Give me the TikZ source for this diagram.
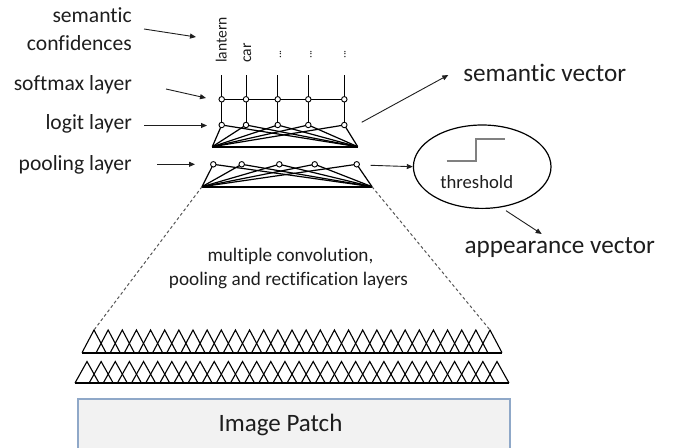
\documentclass[tikz,border=0pt]{standalone}
\usepackage{fontspec}
\setmainfont{Carlito}[Ligatures={NoCommon}]
\usetikzlibrary{arrows.meta,shapes.geometric}
\definecolor{txt}{HTML}{1E1E1E}
\definecolor{boxf}{HTML}{F2F2F2}
\definecolor{boxc}{HTML}{8FA8C8}
\definecolor{stepc}{HTML}{808080}
\definecolor{dashc}{HTML}{555555}
\begin{document}
\begin{tikzpicture}[x=1pt,y=-1pt,
  lbl/.style={inner sep=0pt, text=txt, font=\fontsize{21.6}{26}\selectfont, anchor=base east},
  biglbl/.style={inner sep=0pt, text=txt, font=\fontsize{25.2}{30}\selectfont, anchor=base},
  midlbl/.style={inner sep=0pt, text=txt, font=\fontsize{19.2}{23}\selectfont, anchor=base},
  catlbl/.style={inner sep=0pt, text=txt, font=\fontsize{15.6}{18}\selectfont, rotate=90, anchor=base west},
  dotlbl/.style={inner sep=0pt, text=txt, font=\fontsize{11.5}{13}\selectfont, rotate=90, anchor=base west},
  ptr/.style={draw=txt, line width=0.9pt, -{Triangle[length=6pt,width=5pt]}},
  net/.style={draw=black, line width=1.2pt},
  thin/.style={draw=black, line width=0.9pt},
  neuron/.style={circle, draw=black, fill=white, line width=0.9pt, inner sep=0pt, minimum size=5.5pt},
  tri/.style={draw=black, line width=1.1pt},
  triBase/.style={draw=black, line width=1.8pt},
  dashedge/.style={draw=dashc, line width=1pt, dashed, dash pattern=on 3pt off 2.5pt}
]
\useasboundingbox (0,0) rectangle (674,447);
\clip (0,0) rectangle (674,447);

% ---------- left labels ----------
\node[lbl] (sem1) at (132,22.7) {semantic};
\node[lbl] (sem2) at (132,50) {confidences};
\node[lbl] (soft) at (132,90.7) {softmax layer};
\node[lbl] (logit) at (132,129) {logit layer};
\node[lbl] (pool) at (132,170.7) {pooling layer};

% ---------- network coordinates ----------
\foreach \x [count=\i] in {221.7,246,277.7,308.3,344.3} {
  \coordinate (top\i) at (\x,75);
  \coordinate (sm\i) at (\x,99.3);
  \coordinate (lg\i) at (\x,125);
}
\coordinate (lgL) at (212.3,146.7);
\coordinate (lgR) at (357.7,146.7);
\foreach \x [count=\i] in {213.3,241.7,279.3,314.7,356.7} {
  \coordinate (pl\i) at (\x,164.3);
}
\coordinate (plL) at (202,186.7);
\coordinate (plR) at (372,186.7);

% logit / softmax connections
\foreach \i in {1,...,5} {
  \draw[thin] (top\i) -- (lg\i);
  \draw[net] (lgL) -- (lg\i) -- (lgR);
}
\draw[thin] (sm1) -- (sm5);
\draw[triBase] (lgL) -- (lgR);
% pooling connections
\foreach \i in {1,...,5} {
  \draw[net] (plL) -- (pl\i) -- (plR);
}
\draw[triBase] (plL) -- (plR);
% neurons
\foreach \i in {1,...,5} {
  \node[neuron] (smn\i) at (sm\i) {};
  \node[neuron] (lgn\i) at (lg\i) {};
  \node[neuron] (pln\i) at (pl\i) {};
}

% category labels
\node[catlbl] (lantern) at (226.5,63) {lantern};
\node[catlbl] (car) at (251,63) {car};
\node[dotlbl] (d1) at (281,59) {...};
\node[dotlbl] (d2) at (311.5,59) {...};
\node[dotlbl] (d3) at (345.5,59) {...};

% ---------- label pointers ----------
\coordinate (a1s) at (144,29);   \coordinate (a1e) at (196,37);
\coordinate (a2s) at (166,89);   \coordinate (a2e) at (206,98);
\coordinate (a3s) at (144,125.5);\coordinate (a3e) at (207,125.5);
\coordinate (a4s) at (157,164.3);\coordinate (a4e) at (195,164.3);
\draw[ptr] (a1s) -- (a1e);
\draw[ptr] (a2s) -- (a2e);
\draw[ptr] (a3s) -- (a3e);
\draw[ptr] (a4s) -- (a4e);

% ---------- right side ----------
\node[biglbl] (semvec) at (544.7,81.6) {semantic vector};
\coordinate (svs) at (361.7,122.3);
\coordinate (sve) at (448.3,75);
\draw[ptr] (svs) -- (sve);

\node[ellipse, draw=black, line width=1.2pt, minimum width=137.6pt, minimum height=83.4pt, inner sep=0pt] (thr) at (482.2,166.7) {};
\draw[draw=stepc, line width=1.3pt] (446.7,161) -- (476,161) -- (476,139) -- (505,139);
\node[inner sep=0pt, text=txt, font=\fontsize{18.7}{22}\selectfont, anchor=base] (thrtxt) at (476.7,188.3) {threshold};
\coordinate (pts) at (370.7,165.3);
\draw[ptr] (pts) -- (thr.west) ;
\node[biglbl] (appvec) at (559.7,253) {appearance vector};
\coordinate (aps) at (506,210.7);
\coordinate (ape) at (541.7,234);
\draw[ptr] (aps) -- (ape);

% ---------- middle text ----------
\node[midlbl] (mid1) at (290.5,261.7) {multiple convolution,};
\node[midlbl] (mid2) at (288.5,285) {pooling and rectification layers};

% ---------- triangle rows ----------
\foreach \i in {0,...,28} {
  \pgfmathsetmacro\px{94+\i*14.143}
  \draw[tri] (\px-12,352.7) -- (\px,330) -- (\px+12,352.7);
}
\draw[triBase] (82,352.7) -- (502,352.7);
\foreach \i in {0,...,29} {
  \pgfmathsetmacro\px{87+\i*14.138}
  \draw[tri] (\px-12,383) -- (\px,361.5) -- (\px+12,383);
}
\draw[triBase] (75,383) -- (509,383);
\coordinate (r1a) at (94,330);
\coordinate (r1b) at (490,330);
\draw[dashedge] (plL) -- (r1a);
\draw[dashedge] (plR) -- (r1b);

% ---------- image patch ----------
\draw[draw=boxc, fill=boxf, line width=1.5pt] (78,399) rectangle (510,470);
\node[inner sep=0pt, text=txt, font=\fontsize{25}{30}\selectfont, anchor=base] (patch) at (280.5,431.7) {Image Patch};
\end{tikzpicture}
\end{document}
